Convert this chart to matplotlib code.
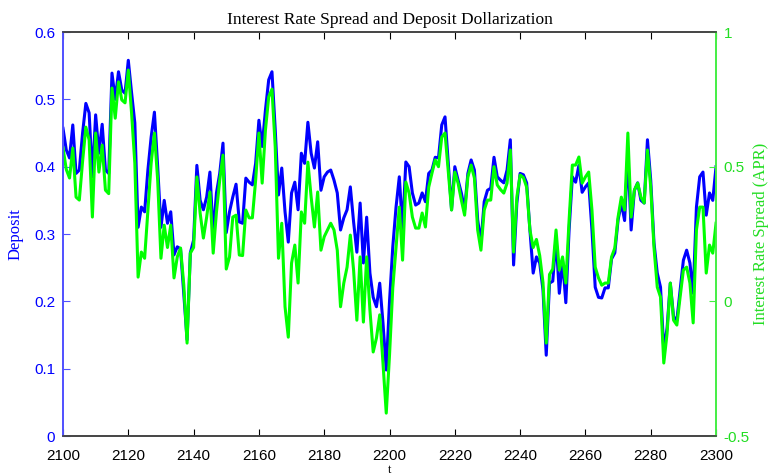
import matplotlib
matplotlib.use("Agg")
import matplotlib.pyplot as plt
import numpy as np

# time index
t = np.arange(2100, 2301)

# deposit dollarization (left axis)
deposit = [
	0.457, 0.425, 0.413, 0.462, 0.390, 0.395, 0.450, 0.494, 0.480, 0.385,
	0.477, 0.420, 0.463, 0.395, 0.390, 0.539, 0.500, 0.541, 0.514, 0.509,
	0.558, 0.510, 0.465, 0.310, 0.340, 0.333, 0.395, 0.444, 0.481, 0.400,
	0.310, 0.350, 0.316, 0.333, 0.269, 0.281, 0.278, 0.210, 0.143, 0.272,
	0.291, 0.402, 0.350, 0.336, 0.355, 0.392, 0.299, 0.361, 0.390, 0.435,
	0.302, 0.333, 0.355, 0.374, 0.318, 0.316, 0.383, 0.377, 0.373, 0.405,
	0.469, 0.430, 0.484, 0.529, 0.541, 0.455, 0.358, 0.398, 0.333, 0.288,
	0.361, 0.377, 0.336, 0.420, 0.405, 0.466, 0.420, 0.398, 0.437, 0.365,
	0.385, 0.392, 0.395, 0.380, 0.361, 0.306, 0.324, 0.336, 0.370, 0.318,
	0.273, 0.346, 0.257, 0.325, 0.242, 0.206, 0.192, 0.227, 0.168, 0.098,
	0.200, 0.281, 0.340, 0.385, 0.306, 0.407, 0.400, 0.361, 0.343, 0.346,
	0.361, 0.348, 0.390, 0.395, 0.414, 0.413, 0.462, 0.474, 0.405, 0.336,
	0.400, 0.380, 0.361, 0.336, 0.390, 0.410, 0.395, 0.321, 0.287, 0.348,
	0.365, 0.368, 0.414, 0.385, 0.380, 0.376, 0.395, 0.440, 0.254, 0.346,
	0.390, 0.388, 0.376, 0.306, 0.242, 0.266, 0.257, 0.217, 0.120, 0.227,
	0.230, 0.295, 0.212, 0.261, 0.198, 0.306, 0.385, 0.377, 0.402, 0.362,
	0.370, 0.376, 0.306, 0.221, 0.206, 0.205, 0.220, 0.220, 0.263, 0.272,
	0.321, 0.346, 0.320, 0.420, 0.306, 0.365, 0.376, 0.350, 0.346, 0.440,
	0.380, 0.287, 0.242, 0.221, 0.128, 0.160, 0.227, 0.177, 0.172, 0.217,
	0.261, 0.276, 0.257, 0.212, 0.340, 0.385, 0.392, 0.328, 0.361, 0.350,
	0.400,
]

# interest rate spread, APR (right axis)
spread = [
	0.570, 0.490, 0.458, 0.569, 0.387, 0.376, 0.520, 0.647, 0.600, 0.313,
	0.625, 0.480, 0.580, 0.413, 0.400, 0.792, 0.680, 0.815, 0.748, 0.737,
	0.859, 0.700, 0.513, 0.090, 0.183, 0.160, 0.339, 0.513, 0.625, 0.450,
	0.160, 0.283, 0.200, 0.283, 0.087, 0.165, 0.198, 0.060, -0.155, 0.179,
	0.200, 0.462, 0.328, 0.235, 0.313, 0.406, 0.179, 0.332, 0.450, 0.543,
	0.120, 0.165, 0.313, 0.320, 0.172, 0.170, 0.339, 0.310, 0.310, 0.450,
	0.625, 0.439, 0.636, 0.759, 0.788, 0.573, 0.160, 0.290, -0.020, -0.133,
	0.142, 0.209, 0.068, 0.332, 0.290, 0.517, 0.387, 0.276, 0.406, 0.190,
	0.240, 0.265, 0.290, 0.265, 0.190, -0.020, 0.068, 0.127, 0.246, 0.116,
	-0.070, 0.165, -0.077, 0.165, -0.032, -0.188, -0.136, -0.050, -0.229, -0.415,
	-0.200, 0.050, 0.200, 0.350, 0.153, 0.443, 0.402, 0.313, 0.272, 0.272,
	0.328, 0.276, 0.424, 0.476, 0.525, 0.500, 0.610, 0.625, 0.480, 0.339,
	0.480, 0.439, 0.376, 0.320, 0.462, 0.506, 0.458, 0.265, 0.190, 0.339,
	0.376, 0.376, 0.500, 0.432, 0.415, 0.402, 0.439, 0.562, 0.183, 0.387,
	0.469, 0.460, 0.424, 0.265, 0.200, 0.230, 0.170, 0.070, -0.155, 0.100,
	0.120, 0.265, 0.116, 0.165, 0.068, 0.302, 0.506, 0.506, 0.536, 0.439,
	0.462, 0.480, 0.339, 0.127, 0.087, 0.060, 0.068, 0.068, 0.165, 0.198,
	0.313, 0.387, 0.339, 0.625, 0.313, 0.413, 0.439, 0.387, 0.365, 0.562,
	0.424, 0.200, 0.053, 0.016, -0.229, -0.120, 0.068, -0.070, -0.088, 0.016,
	0.116, 0.127, 0.068, -0.080, 0.265, 0.350, 0.350, 0.105, 0.209, 0.179,
	0.290,
]

blue = '#0000ff'
green = '#00ff00'
green_txt = '#22dd22'

fig = plt.figure(figsize=(7.72, 4.76), dpi=100)
ax = fig.add_axes([0.0816, 0.084, 0.8459, 0.8487])
ax2 = ax.twinx()

# blue on the first axes, green on the twin (drawn on top)
ax.plot(t, deposit, color=blue, linewidth=2.2)
ax2.plot(t, spread, color=green, linewidth=2.2)

ax.set_xlim(2100, 2300)
ax.set_ylim(0, 0.6)
ax2.set_ylim(-0.5, 1)
ax.set_xticks(np.arange(2100, 2301, 20))
ax.set_yticks(np.arange(0, 0.61, 0.1))
ax.set_yticklabels(['0', '0.1', '0.2', '0.3', '0.4', '0.5', '0.6'])
ax2.set_yticks([-0.5, 0, 0.5, 1])
ax2.set_yticklabels(['-0.5', '0', '0.5', '1'])

tickfont = dict(fontsize=11, family='Liberation Sans')
for lab in ax.get_xticklabels():
	lab.set(**tickfont)
for lab in ax.get_yticklabels():
	lab.set(**tickfont, color=blue)
for lab in ax2.get_yticklabels():
	lab.set(**tickfont, color=green_txt)

ax.tick_params(direction='in', length=5, which='both', top=True)
ax.tick_params(axis='x', pad=9)
ax.tick_params(axis='y', colors='#5050ff', labelcolor=blue, pad=5.5)
ax2.tick_params(direction='in', length=5, colors='#44ee44', labelcolor=green_txt, pad=5.5)

for a in (ax, ax2):
	a.spines['top'].set_color('#444444')
	a.spines['bottom'].set_color('#444444')
	a.spines['left'].set_color('#5050ff')
	a.spines['right'].set_color('#44ee44')
	for s in a.spines.values():
		s.set_linewidth(1.2)

serif = 'Liberation Serif'
ax.set_title('Interest Rate Spread and Deposit Dollarization', fontsize=12.5, family=serif, pad=6)
ax.set_ylabel('Deposit', fontsize=12, family=serif, color=blue, labelpad=8)
ax2.set_ylabel('Interest Rate Spread (APR)', fontsize=12, family=serif, color=green_txt, labelpad=2)
ax.set_xlabel('t', fontsize=9, family=serif, labelpad=1)

plt.savefig('out.png', dpi=100)
